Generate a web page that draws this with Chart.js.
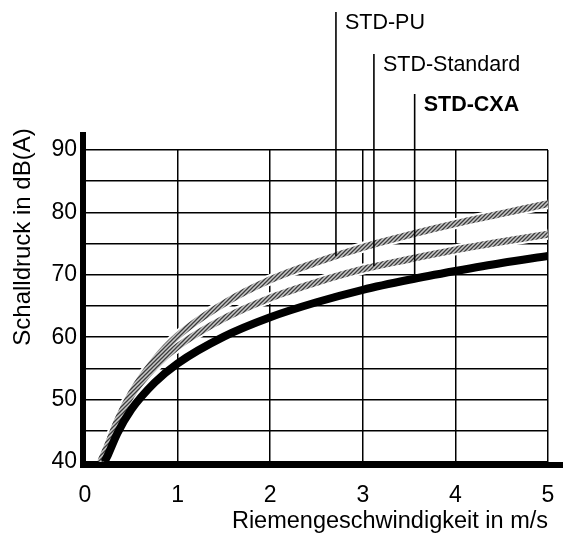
<!DOCTYPE html>
<html>
<head>
<meta charset="utf-8">
<script src="https://cdn.jsdelivr.net/npm/chart.js@4.4.1/dist/chart.umd.min.js"></script>
<style>
  html, body { margin: 0; padding: 0; background: #fff; }
  #wrap { width: 563px; height: 538px; }
</style>
</head>
<body>
<div id="wrap"><canvas id="graph"></canvas></div>
<script>
/*********************** Data ***********************/
// Riemengeschwindigkeit (m/s) and Schalldruck dB(A)
const speedPU  = [0.17, 0.25, 0.35, 0.5, 0.75, 1, 1.5, 2, 2.5, 3, 3.5, 4, 4.5, 5];
const soundPU  = [40, 42.8, 46.6, 51, 56.3, 60.2, 65.4, 69.2, 72, 74.4, 76.4, 78.2, 79.8, 81.4];

const speedStd = [0.17, 0.25, 0.35, 0.5, 0.75, 1, 1.5, 2, 2.5, 3, 3.5, 4, 4.5, 5];
const soundStd = [40, 42.8, 46.5, 50.7, 55.2, 58.5, 63, 66.3, 68.8, 70.9, 72.5, 74, 75.3, 76.5];

const speedCXA = [0.21, 0.25, 0.35, 0.5, 0.75, 1, 1.5, 2, 2.5, 3, 3.5, 4, 4.5, 5];
const soundCXA = [40, 41.2, 44.6, 48.4, 52.7, 55.8, 60.1, 63.2, 65.6, 67.6, 69.2, 70.6, 71.9, 73];

const xTicks = [0, 1, 2, 3, 4, 5];
const yTicks = [40, 45, 50, 55, 60, 65, 70, 75, 80, 85, 90];
const yLabels = [40, 50, 60, 70, 80, 90];

// leader labels: name, speed where the line touches its curve, level there
const labelNames = ['STD-PU', 'STD-Standard', 'STD-CXA'];
const labelSpeed = [2.71, 3.12, 3.56];
const labelSound = [73.0, 71.4, 70.0];

const toPoints = (xs, ys) => xs.map((x, i) => ({x: x, y: ys[i]}));
const FONT = '"Liberation Sans", Arial, sans-serif';

/******************** Hatch pattern ********************/
const hatch = () => {
    let c = document.createElement('canvas');
    c.width = 4; c.height = 4;
    let g = c.getContext('2d');
    g.fillStyle = '#c8c8c8';
    g.fillRect(0, 0, 4, 4);
    g.strokeStyle = '#3c3c3c';
    g.lineWidth = 1.3;
    g.beginPath();
    g.moveTo(0, 4); g.lineTo(4, 0);
    g.moveTo(-1, 1); g.lineTo(1, -1);
    g.moveTo(3, 5); g.lineTo(5, 3);
    g.stroke();
    return g.createPattern(c, 'repeat');
}
const grayHatch = hatch();

/******************** Extra drawing ********************/
const extras = {
    id: 'extras',
    afterDraw(chart) {
        const ctx = chart.ctx;
        const xs = chart.scales.x, ys = chart.scales.y;
        const area = chart.chartArea;
        ctx.save();

        // leader lines + labels
        const tops = [12, 54, 94];
        ctx.strokeStyle = '#000';
        ctx.lineWidth = 1.6;
        ctx.fillStyle = '#000';
        ctx.textBaseline = 'middle';
        for (let i = 0; i < labelNames.length; i++) {
            let px = xs.getPixelForValue(labelSpeed[i]);
            let py = ys.getPixelForValue(labelSound[i]);
            ctx.beginPath();
            ctx.moveTo(px, tops[i]);
            ctx.lineTo(px, py);
            ctx.stroke();
            ctx.font = (i === 2 ? 'bold ' : '') + '21.5px ' + FONT;
            ctx.fillText(labelNames[i], px + 9, tops[i] + 11);
        }

        // thick axes
        ctx.lineWidth = 6;
        ctx.lineCap = 'butt';
        ctx.beginPath();
        ctx.moveTo(area.left - 2, area.top - 18);
        ctx.lineTo(area.left - 2, area.bottom + 3);
        ctx.lineTo(chart.width, area.bottom + 3);
        ctx.stroke();

        // y title
        ctx.translate(23, 237);
        ctx.rotate(-Math.PI / 2);
        ctx.textAlign = 'center';
        ctx.font = '24px ' + FONT;
        ctx.fillText('Schalldruck in dB(A)', 0, 0);
        ctx.restore();
    }
};

/********************** Draw chart **********************/
const line = (data, color, width, order) => ({
    data: data,
    borderColor: color,
    borderWidth: width,
    order: order,
    pointRadius: 0,
    fill: false,
    cubicInterpolationMode: 'monotone'
});

const chart = new Chart(document.getElementById('graph'), {
    type: 'line',
    data: {
        datasets: [
            line(toPoints(speedPU, soundPU), '#fff', 11, 5),
            line(toPoints(speedStd, soundStd), '#fff', 11, 4),
            line(toPoints(speedPU, soundPU), grayHatch, 7, 3),
            line(toPoints(speedStd, soundStd), grayHatch, 7, 2),
            line(toPoints(speedCXA, soundCXA), '#000', 8, 1)
        ]
    },
    options: {
        responsive: true,
        maintainAspectRatio: false,
        animation: false,
        events: [],
        layout: { padding: { top: 150, right: 15, left: 0, bottom: 0 } },
        plugins: { legend: { display: false }, tooltip: { enabled: false } },
        scales: {
            x: {
                type: 'linear',
                min: 0, max: 5,
                afterBuildTicks: s => { s.ticks = xTicks.map(v => ({value: v})); },
                afterFit: s => { s.height = 76; s.paddingLeft = 0; s.paddingRight = 0; },
                grid: { color: '#000', lineWidth: 1.5, drawTicks: false },
                border: { display: false },
                ticks: {
                    color: '#000', padding: 20,
                    font: { family: FONT, size: 23 }
                },
                title: {
                    display: true, align: 'end',
                    text: 'Riemengeschwindigkeit in m/s',
                    color: '#000', padding: { top: 0, bottom: 2 },
                    font: { family: FONT, size: 23.5 }
                }
            },
            y: {
                min: 40, max: 90,
                afterBuildTicks: s => { s.ticks = yTicks.map(v => ({value: v})); },
                afterFit: s => { s.width = 85; },
                grid: { color: '#000', lineWidth: 1.5, drawTicks: false },
                border: { display: false },
                ticks: {
                    color: '#000', padding: 8,
                    font: { family: FONT, size: 23 },
                    callback: v => yLabels.includes(v) ? String(v) : ''
                }
            }
        }
    },
    plugins: [extras]
});
</script>
</body>
</html>
